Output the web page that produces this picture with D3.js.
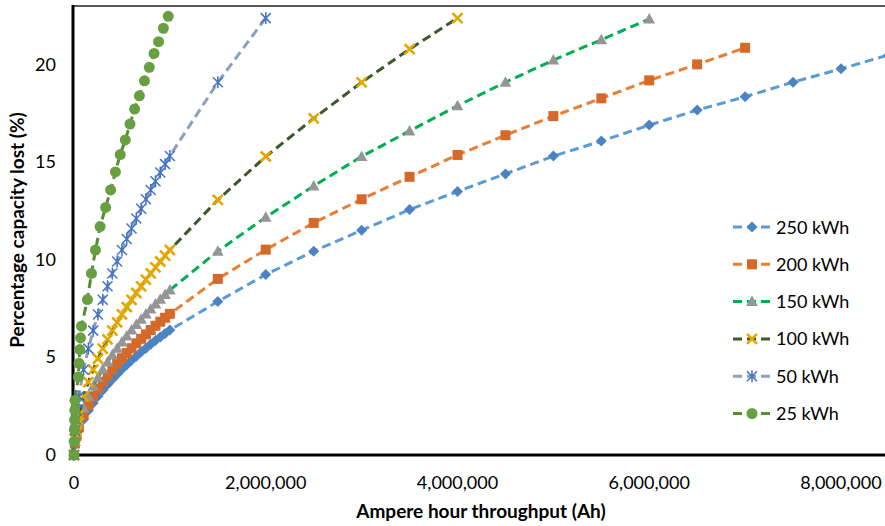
<!DOCTYPE html>
<html>
<head>
<meta charset="utf-8">
<script src="https://cdn.jsdelivr.net/npm/d3@7"></script>
<style>
  body { margin: 0; background: #fff; }
  svg { display: block; font-family: Lato, "Open Sans", sans-serif; }
</style>
</head>
<body>
<div id="chart"></div>
<script>
// tick labels
var xTicks = [0, 2000000, 4000000, 6000000, 8000000];
var yTicks = [0, 5, 10, 15, 20];

// Ah throughput values
var ahDense = [50000, 100000, 150000, 200000, 250000, 300000, 350000, 400000, 450000, 500000,
               550000, 600000, 650000, 700000, 750000, 800000, 850000, 900000, 950000, 1000000];
var ahLong = [1500000, 2000000, 2500000, 3000000, 3500000, 4000000, 4500000, 5000000,
              5500000, 6000000, 6500000, 7000000, 7500000, 8000000, 8500000];

var ah250 = [0, 10000, 25000].concat(ahDense, ahLong);
var loss250 = [0, 0.52, 0.86,
  1.25, 1.82, 2.28, 2.66, 3.01, 3.32, 3.61, 3.88, 4.14, 4.39, 4.62, 4.85, 5.06, 5.27, 5.47, 5.67, 5.86, 6.04, 6.22, 6.40,
  7.86, 9.24, 10.44, 11.51, 12.57, 13.5, 14.4, 15.31, 16.08, 16.9, 17.67, 18.35, 19.1, 19.78, 20.5];

var ah200 = [0, 10000, 25000].concat(ahDense, ahLong.slice(0, 12));
var loss200 = [0, 0.59, 0.97,
  1.41, 2.06, 2.57, 3.01, 3.40, 3.75, 4.08, 4.39, 4.68, 4.96, 5.22, 5.47, 5.72, 5.95, 6.18, 6.40, 6.62, 6.83, 7.03, 7.23,
  9.02, 10.52, 11.89, 13.1, 14.25, 15.37, 16.38, 17.36, 18.27, 19.19, 20.01, 20.86];

var ah150 = [0, 10000, 25000].concat(ahDense, ahLong.slice(0, 10));
var loss150 = [0, 0.69, 1.13,
  1.65, 2.41, 3.00, 3.52, 3.97, 4.39, 4.77, 5.13, 5.47, 5.79, 6.10, 6.40, 6.68, 6.96, 7.22, 7.48, 7.73, 7.98, 8.22, 8.45,
  10.44, 12.18, 13.78, 15.29, 16.6, 17.89, 19.09, 20.23, 21.27, 22.33];

var ah100 = [0, 10000, 20000, 30000, 40000].concat(ahDense, ahLong.slice(0, 6));
var loss100 = [0, 0.86, 1.25, 1.56, 1.82,
  2.05, 2.99, 3.73, 4.37, 4.93, 5.45, 5.92, 6.37, 6.79, 7.20, 7.58, 7.95, 8.30, 8.64, 8.98, 9.30, 9.61, 9.91, 10.21, 10.5,
  13.07, 15.29, 17.24, 19.09, 20.79, 22.38];

var ah50 = [0, 10000, 20000, 30000, 40000].concat(ahDense, ahLong.slice(0, 2));
var loss50 = [0, 1.25, 1.82, 2.28, 2.66,
  2.99, 4.37, 5.45, 6.37, 7.20, 7.95, 8.64, 9.30, 9.91, 10.50, 11.06, 11.60, 12.11, 12.61, 13.10, 13.57, 14.02, 14.47, 14.90, 15.32,
  19.09, 22.38];

var ah25 = [0, 2000, 4000, 6000, 8000, 10000, 45000, 52000, 60000, 68000, 78000,
  140000, 182000, 224000, 272000, 330000, 382000, 432000, 482000, 535000, 584000,
  632000, 682000, 735000, 785000, 835000, 882000, 932000, 983000];
var loss25 = [0, 0.7, 1.3, 1.8, 2.3, 2.8, 4.0, 4.7, 5.4, 6.0, 6.6,
  7.96, 9.3, 10.5, 11.7, 12.68, 13.58, 14.5, 15.39, 16.14, 16.95,
  17.72, 18.4, 19.17, 19.86, 20.57, 21.17, 21.86, 22.47];

var seriesNames = ["250 kWh", "200 kWh", "150 kWh", "100 kWh", "50 kWh", "25 kWh"];

var width = 885, height = 526;
var svg = d3.select("#chart").append("svg").attr("width", width).attr("height", height);

var x = d3.scaleLinear().domain([0, 8000000]).range([74, 841]);
var y = d3.scaleLinear().domain([0, 23]).range([455, 6]);

var series = [
  {name: seriesNames[0], ah: ah250, loss: loss250, line: "#5b9bd5", mark: "#4a84c2", shape: "diamond"},
  {name: seriesNames[1], ah: ah200, loss: loss200, line: "#ed7d31", mark: "#d4692a", shape: "square"},
  {name: seriesNames[2], ah: ah150, loss: loss150, line: "#00b050", mark: "#959595", shape: "triangle"},
  {name: seriesNames[3], ah: ah100, loss: loss100, line: "#3b5a26", mark: "#e3a700", shape: "x"},
  {name: seriesNames[4], ah: ah50, loss: loss50, line: "#8aa0bd", mark: "#4472c4", shape: "star"},
  {name: seriesNames[5], ah: ah25, loss: loss25, line: "#5a8c38", mark: "#68a041", shape: "circle"}
];

// axes frame
svg.append("line").attr("x1", 73).attr("x2", 885).attr("y1", 6).attr("y2", 6)
  .attr("stroke", "#222").attr("stroke-width", 1.3);
svg.append("line").attr("x1", 73).attr("x2", 73).attr("y1", 5).attr("y2", 456.5)
  .attr("stroke", "#000").attr("stroke-width", 3);
svg.append("line").attr("x1", 71.5).attr("x2", 885).attr("y1", 455).attr("y2", 455)
  .attr("stroke", "#000").attr("stroke-width", 3);

svg.selectAll(".ylab").data(yTicks).enter().append("text")
  .attr("x", 56).attr("y", function(d){ return y(d) + 6; })
  .attr("text-anchor", "end").attr("font-size", 18).attr("fill", "#000")
  .text(function(d){ return d; });

svg.selectAll(".xlab").data(xTicks).enter().append("text")
  .attr("x", function(d){ return x(d); }).attr("y", 489)
  .attr("text-anchor", "middle").attr("font-size", 18).attr("fill", "#000")
  .text(d3.format(","));

svg.append("text").attr("x", 481).attr("y", 518).attr("text-anchor", "middle")
  .attr("font-size", 19).attr("font-weight", "bold").text("Ampere hour throughput (Ah)");
svg.append("text").attr("transform", "translate(24,230) rotate(-90)").attr("text-anchor", "middle")
  .attr("font-size", 19).attr("font-weight", "bold").text("Percentage capacity lost (%)");

function drawMarker(g, shape, color) {
  if (shape == "diamond") g.append("path").attr("d", "M0,-5.5L5.5,0L0,5.5L-5.5,0Z").attr("fill", color);
  else if (shape == "square") g.append("rect").attr("x", -5).attr("y", -5).attr("width", 10).attr("height", 10).attr("fill", color);
  else if (shape == "triangle") g.append("path").attr("d", "M0,-6L5.8,4.5L-5.8,4.5Z").attr("fill", color);
  else if (shape == "x") g.append("path").attr("d", "M-5,-5L5,5M-5,5L5,-5").attr("stroke", color).attr("stroke-width", 2.6).attr("fill", "none");
  else if (shape == "star") g.append("path").attr("d", "M-5,-5L5,5M-5,5L5,-5M0,-6L0,6").attr("stroke", color).attr("stroke-width", 1.5).attr("fill", "none");
  else g.append("circle").attr("r", 5.5).attr("fill", color);
}

var line = d3.line().x(function(d){ return x(d[0]); }).y(function(d){ return y(d[1]); });

series.forEach(function(s){
  var pts = s.ah.map(function(a, i){ return [a, s.loss[i]]; });
  svg.append("path").datum(pts).attr("d", line)
    .attr("fill", "none").attr("stroke", s.line).attr("stroke-width", 3)
    .attr("stroke-dasharray", "9,5");
  pts.forEach(function(p){
    var g = svg.append("g").attr("transform", "translate(" + x(p[0]) + "," + y(p[1]) + ")");
    drawMarker(g, s.shape, s.mark);
  });
});

// legend
var legend = svg.append("g");
series.forEach(function(s, i){
  var ly = 227 + i * 37.3;
  legend.append("line").attr("x1", 733).attr("x2", 772).attr("y1", ly).attr("y2", ly)
    .attr("stroke", s.line).attr("stroke-width", 3).attr("stroke-dasharray", "9,5");
  var g = legend.append("g").attr("transform", "translate(752," + ly + ")");
  drawMarker(g, s.shape, s.mark);
  legend.append("text").attr("x", 776).attr("y", ly + 6.5).attr("font-size", 18).text(s.name);
});
</script>
</body>
</html>
